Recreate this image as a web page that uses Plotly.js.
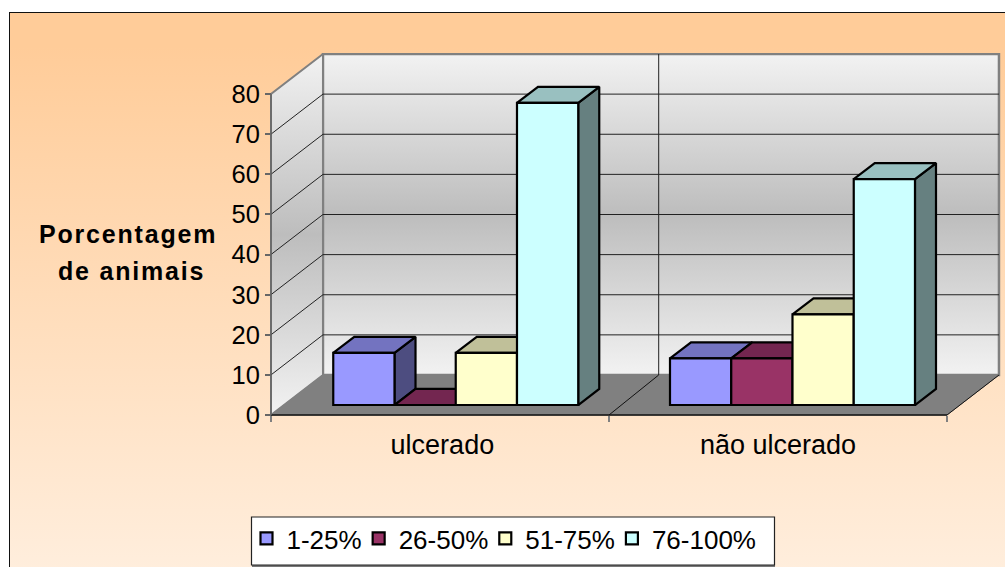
<!DOCTYPE html>
<html><head><meta charset="utf-8">
<script src="https://cdn.plot.ly/plotly-3.0.1.min.js"></script>
<style>
html,body{margin:0;padding:0;background:#fff;width:1005px;height:567px;overflow:hidden}
#panel{position:absolute;left:9px;top:12px;width:1000px;height:560px;border:1.5px solid #111;background:linear-gradient(180deg,#ffcc99 0%,#ffcc99 6%,#ffeedd 100%)}
#chart{position:absolute;left:0;top:0;width:1005px;height:567px}
.annotation-text{letter-spacing:1.8px}
path.legendbar{transform:translate(18px,0) scale(1.3)}
</style></head><body>
<div id="panel"></div><div id="chart"></div>
<script>
const categories=['ulcerado','não ulcerado'];
const seriesNames=['1-25%','26-50%','51-75%','76-100%'];
const s1=[13,11.6];
const s2=[0,11.6];
const s3=[13,22.6];
const s4=[75.3,56.3];
const seriesValues=[s1,s2,s3,s4];
const frontColors=['#9999ff','#993366','#ffffcc','#ccffff'];
const topColors=['#7373c0','#732650','#c0c099','#99c0c0'];
const sideColors=['#4d4d80','#4d1a33','#808066','#668080'];
const yTicks=[0,10,20,30,40,50,60,70,80];

const wallDX=0.1538, wallDY=9.97, midDX=0.147;
const barDX=0.0624, barDY=4.0;
const barGap=0.2725, barW=(1-barGap)/4;
const centers=[0.5,1.5];
const labelPos=[0.507,1.5];
const traces=[];
const wallScale=[[0,'#f2f2f2'],[0.5,'#bdbdbd'],[1,'#f2f2f2']];
// walls
traces.push({type:'scatter',mode:'lines',x:[wallDX,2+wallDX,2+wallDX,wallDX,wallDX],y:[wallDY,wallDY,80+wallDY,80+wallDY,wallDY],
  fill:'toself',fillgradient:{type:'vertical',colorscale:wallScale,start:wallDY,stop:80+wallDY},line:{color:'#808080',width:2.5},showlegend:false,hoverinfo:'skip'});
traces.push({type:'scatter',mode:'lines',x:[0,wallDX,wallDX,0,0],y:[0,wallDY,80+wallDY,80,0],
  fill:'toself',fillgradient:{type:'vertical',colorscale:wallScale,start:0,stop:80+wallDY},line:{color:'#808080',width:2},showlegend:false,hoverinfo:'skip'});
// floor
traces.push({type:'scatter',mode:'lines',x:[0,2,2+wallDX,wallDX,0],y:[0,0,wallDY,wallDY,0],fill:'toself',fillcolor:'#808080',line:{color:'#808080',width:1},showlegend:false,hoverinfo:'skip'});
// gridlines
let gx=[],gy=[];
yTicks.slice(1).forEach(v=>{if(v<80){gx.push(0,wallDX,2+wallDX,null);gy.push(v,v+wallDY,v+wallDY,null);}});
gx.push(1+midDX,1+midDX,null);gy.push(wallDY,80+wallDY,null);
traces.push({type:'scatter',mode:'lines',x:gx,y:gy,line:{color:'#222',width:1},showlegend:false,hoverinfo:'skip'});
traces.push({type:'scatter',mode:'lines',x:[1,1+midDX,null,2,2+wallDX],y:[0,wallDY,null,0,wallDY],line:{color:'#111',width:1},showlegend:false,hoverinfo:'skip'});
// axis lines
traces.push({type:'scatter',mode:'lines',x:[0,2],y:[0,0],line:{color:'#111',width:1.5},showlegend:false,hoverinfo:'skip'});
traces.push({type:'scatter',mode:'lines',x:[0,0],y:[0,80],line:{color:'#666',width:1.5},showlegend:false,hoverinfo:'skip'});
// bar depth faces
seriesValues.forEach((vals,i)=>{
  const tx=[],ty=[],sx=[],sy=[];
  vals.forEach((v,c)=>{
    const L=centers[c]+(i-2)*barW,R=L+barW;
    tx.push(L,L+barDX,R+barDX,R,L,null);ty.push(v,v+barDY,v+barDY,v,v,null);
    sx.push(R,R+barDX,R+barDX,R,R,null);sy.push(v,v+barDY,barDY,0,v,null);
  });
  traces.push({type:'scatter',mode:'lines',xaxis:'x2',yaxis:'y2',x:sx,y:sy,fill:'toself',fillcolor:sideColors[i],line:{color:'#000',width:2.2},showlegend:false,hoverinfo:'skip'});
  traces.push({type:'scatter',mode:'lines',xaxis:'x2',yaxis:'y2',x:tx,y:ty,fill:'toself',fillcolor:topColors[i],line:{color:'#000',width:2.2},showlegend:false,hoverinfo:'skip'});
});
// bar fronts
seriesValues.forEach((vals,i)=>{
  traces.push({type:'bar',xaxis:'x3',yaxis:'y3',x:centers,y:vals,name:seriesNames[i],marker:{color:frontColors[i],line:{color:'#000',width:2.2}},
    customdata:categories,hovertemplate:'%{customdata}: %{y}<extra>'+seriesNames[i]+'</extra>'});
});
const F='Liberation Sans, Arial, sans-serif';
const L0=268,R0=1003,T0=53,B0=418,W=R0-L0,H=B0-T0;
const px=p=>(p-L0)/W, py=p=>(B0-p)/H;
const mainX=[-3/338,(R0-271)/338], mainY=[-3/4.0125,(415-T0)/4.0125];
const barX=[-0.0486-3/336.75,-0.0486+(R0-271)/336.75], barY=[-2.49-3/4.0125,-2.49+(415-T0)/4.0125];
const layout={
  width:1005,height:567,margin:{l:L0,r:1005-R0,t:T0,b:567-B0,pad:0},
  paper_bgcolor:'rgba(0,0,0,0)',plot_bgcolor:'rgba(0,0,0,0)',
  barmode:'group',bargap:barGap,bargroupgap:0,
  font:{family:F,size:25,color:'#000'},
  xaxis:{type:'linear',range:mainX,anchor:'free',position:py(415),tickmode:'array',tickvals:labelPos,ticktext:categories,ticks:'',showgrid:false,zeroline:false,showline:false,
    tickfont:{family:F,size:27,color:'#000'},
    minor:{tickmode:'array',tickvals:[0,1,2],ticks:'outside',ticklen:6,tickcolor:'#808080',tickwidth:1.5,showgrid:false},ticklabelstandoff:11},
  yaxis:{type:'linear',range:mainY,anchor:'free',position:px(271),tickmode:'array',tickvals:yTicks,ticks:'outside',ticklen:6,tickcolor:'#666',tickwidth:1.5,showgrid:false,zeroline:false,showline:false,
    tickfont:{family:F,size:25.5,color:'#000'}},
  xaxis2:{overlaying:'x',anchor:'y2',range:barX,visible:false},
  yaxis2:{overlaying:'y',anchor:'x2',range:barY,visible:false},
  xaxis3:{overlaying:'x',anchor:'y3',range:barX,visible:false},
  yaxis3:{overlaying:'y',anchor:'x3',range:barY,visible:false},
  shapes:[
    {type:'rect',xref:'paper',yref:'paper',x0:px(252),x1:px(775),y0:py(519),y1:py(567),fillcolor:'#777',line:{width:0},layer:'below'},
    {type:'rect',xref:'paper',yref:'paper',x0:px(251.5),x1:px(774.5),y0:py(517),y1:py(565),fillcolor:'#fff',line:{color:'#222',width:1.2},layer:'below'}],
  legend:{orientation:'h',xref:'container',yref:'container',x:254.5/1005,y:1-515/567,xanchor:'left',yanchor:'top',bgcolor:'rgba(0,0,0,0)',borderwidth:0,indentation:-8,font:{family:F,size:26,color:'#000'}},
  annotations:[
    {xref:'paper',yref:'paper',x:px(128),y:py(234),text:'<b>Porcentagem</b>',showarrow:false,xanchor:'center',yanchor:'middle',font:{family:F,size:25,color:'#000'}},
    {xref:'paper',yref:'paper',x:px(131),y:py(271),text:'<b>de animais</b>',showarrow:false,xanchor:'center',yanchor:'middle',font:{family:F,size:25,color:'#000'}}
  ]
};
Plotly.newPlot('chart',traces,layout,{displayModeBar:false});
</script></body></html>
